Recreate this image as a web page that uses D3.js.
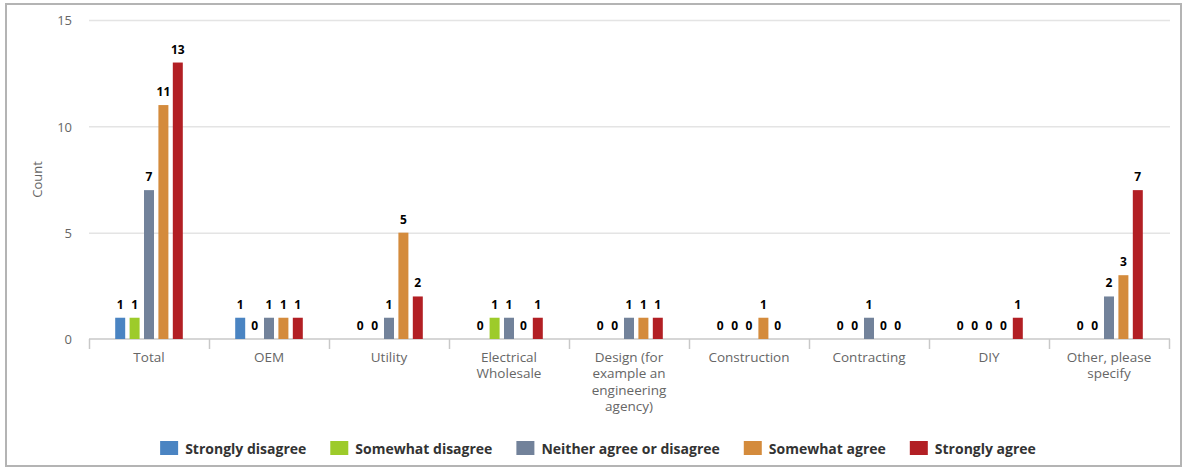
<!DOCTYPE html>
<html>
<head>
<meta charset="utf-8">
<script src="https://cdn.jsdelivr.net/npm/d3@7"></script>
<style>
  html, body { margin: 0; padding: 0; background: #fff; }
  svg { display: block; }
</style>
</head>
<body>
<svg id="chart" width="1190" height="470"></svg>
<script>
const categories = ["Total", "OEM", "Utility", "Electrical Wholesale",
  "Design (for example an engineering agency)", "Construction", "Contracting",
  "DIY", "Other, please specify"];
const seriesNames = ["Strongly disagree", "Somewhat disagree",
  "Neither agree or disagree", "Somewhat agree", "Strongly agree"];
const stronglyDisagree = [1, 1, 0, 0, 0, 0, 0, 0, 0];
const somewhatDisagree = [1, 0, 0, 1, 0, 0, 0, 0, 0];
const neitherAgree     = [7, 1, 1, 1, 1, 0, 1, 0, 2];
const somewhatAgree    = [11, 1, 5, 0, 1, 1, 0, 0, 3];
const stronglyAgree    = [13, 1, 2, 1, 1, 0, 0, 1, 7];
const yTicks = [0, 5, 10, 15];
const colors = ["#4a84c2", "#9dcb2a", "#72829a", "#d48b3c", "#b21f24"];

const seriesValues = [stronglyDisagree, somewhatDisagree, neitherAgree, somewhatAgree, stronglyAgree];

const svg = d3.select("#chart");
const plot = { left: 89, right: 1169, top: 20, bottom: 339 };

// border
svg.append("rect").attr("x", 6).attr("y", 4).attr("width", 1175).attr("height", 462)
  .attr("fill", "#fff").attr("stroke", "#b4b4b4").attr("stroke-width", 2);

const x0 = d3.scaleBand().domain(categories).range([plot.left, plot.right]).padding(0);
const groupPad = x0.bandwidth() * 0.2;
const x1 = d3.scaleBand().domain(seriesNames)
  .range([groupPad, x0.bandwidth() - groupPad])
  .paddingInner(0.306).paddingOuter(0.153);
const y = d3.scaleLinear().domain([0, 15]).range([plot.bottom, plot.top]);

// gridlines
const yAxis = d3.axisLeft(y).tickValues(yTicks).tickSize(-(plot.right + 1 - plot.left)).tickPadding(17);
const gy = svg.append("g").attr("transform", `translate(${plot.left},0)`).call(yAxis);
gy.select(".domain").remove();
gy.selectAll(".tick line").attr("stroke", "#e4e4e4").attr("stroke-width", 1.5);
gy.selectAll(".tick text").attr("fill", "#666").attr("font-family", "Open Sans")
  .attr("font-size", 13).attr("dy", "0.36em");
gy.selectAll(".tick").filter(d => d === 0).select("line").remove();

// y title
svg.append("text").attr("transform", `translate(42,${(plot.top + plot.bottom) / 2}) rotate(-90)`)
  .attr("text-anchor", "middle").attr("font-family", "Open Sans").attr("font-size", 13)
  .attr("fill", "#666").text("Count");

// x axis
const xAxis = d3.axisBottom(x0).tickSize(0).tickPadding(0);
const gx = svg.append("g").attr("transform", `translate(0,${plot.bottom})`).call(xAxis);
gx.select(".domain").attr("stroke", "#c8c8c8").attr("stroke-width", 1.5)
  .attr("d", `M${plot.left},0H${plot.right + 1}`);
gx.selectAll(".tick text").remove();
const bounds = categories.map(c => x0(c)).concat([plot.right]);
gx.selectAll("line.bound").data(bounds).enter().append("line").attr("class", "bound")
  .attr("x1", d => d + 0.5).attr("x2", d => d + 0.5).attr("y1", 0).attr("y2", 10)
  .attr("stroke", "#c8c8c8").attr("stroke-width", 1.5);

// wrapped labels
function wrapLines(text, maxW, measure) {
  const words = text.split(" ");
  const lines = [];
  let cur = "";
  words.forEach(w => {
    const t = cur ? cur + " " + w : w;
    if (cur && measure(t) > maxW) { lines.push(cur); cur = w; } else cur = t;
  });
  if (cur) lines.push(cur);
  return lines;
}
const meas = svg.append("text").attr("font-family", "Open Sans").attr("font-size", 13.5).attr("visibility", "hidden");
const measure = t => { meas.text(t); return meas.node().getComputedTextLength(); };
categories.forEach(c => {
  const lines = wrapLines(c, 100, measure);
  const t = svg.append("text").attr("text-anchor", "middle").attr("font-family", "Open Sans")
    .attr("font-size", 13.5).attr("fill", "#666");
  lines.forEach((l, i) => {
    t.append("tspan").attr("x", x0(c) + x0.bandwidth() / 2).attr("y", 362 + i * 16.3).text(l);
  });
});
meas.remove();

// bars
const groups = svg.append("g").selectAll("g").data(categories).enter().append("g")
  .attr("transform", d => `translate(${x0(d)},0)`);
groups.each(function (cat, ci) {
  const g = d3.select(this);
  seriesNames.forEach((s, si) => {
    const v = seriesValues[si][ci];
    if (v > 0) {
      g.append("rect").attr("x", x1(s)).attr("y", y(v)).attr("width", x1.bandwidth())
        .attr("height", y(0) - y(v)).attr("fill", colors[si]);
    }
    g.append("text").attr("x", x1(s) + x1.bandwidth() / 2).attr("y", y(v) - 9)
      .attr("text-anchor", "middle").attr("font-family", "Open Sans").attr("font-weight", "bold")
      .attr("font-size", 12).attr("fill", "#000").text(v);
  });
});

// legend
const legend = svg.append("g");
let cx = 0;
seriesNames.forEach((s, i) => {
  const it = legend.append("g");
  it.append("rect").attr("x", cx).attr("y", 441).attr("width", 18).attr("height", 14).attr("fill", colors[i]);
  const t = it.append("text").attr("x", cx + 25).attr("y", 454).attr("font-family", "Open Sans")
    .attr("font-weight", "bold").attr("font-size", 14).attr("fill", "#333").text(s);
  const w = t.node().getComputedTextLength();
  cx += 25 + w + 24;
});
const totalW = cx - 24;
legend.attr("transform", `translate(${(153 + 1043) / 2 - totalW / 2},0)`);
</script>
</body>
</html>
